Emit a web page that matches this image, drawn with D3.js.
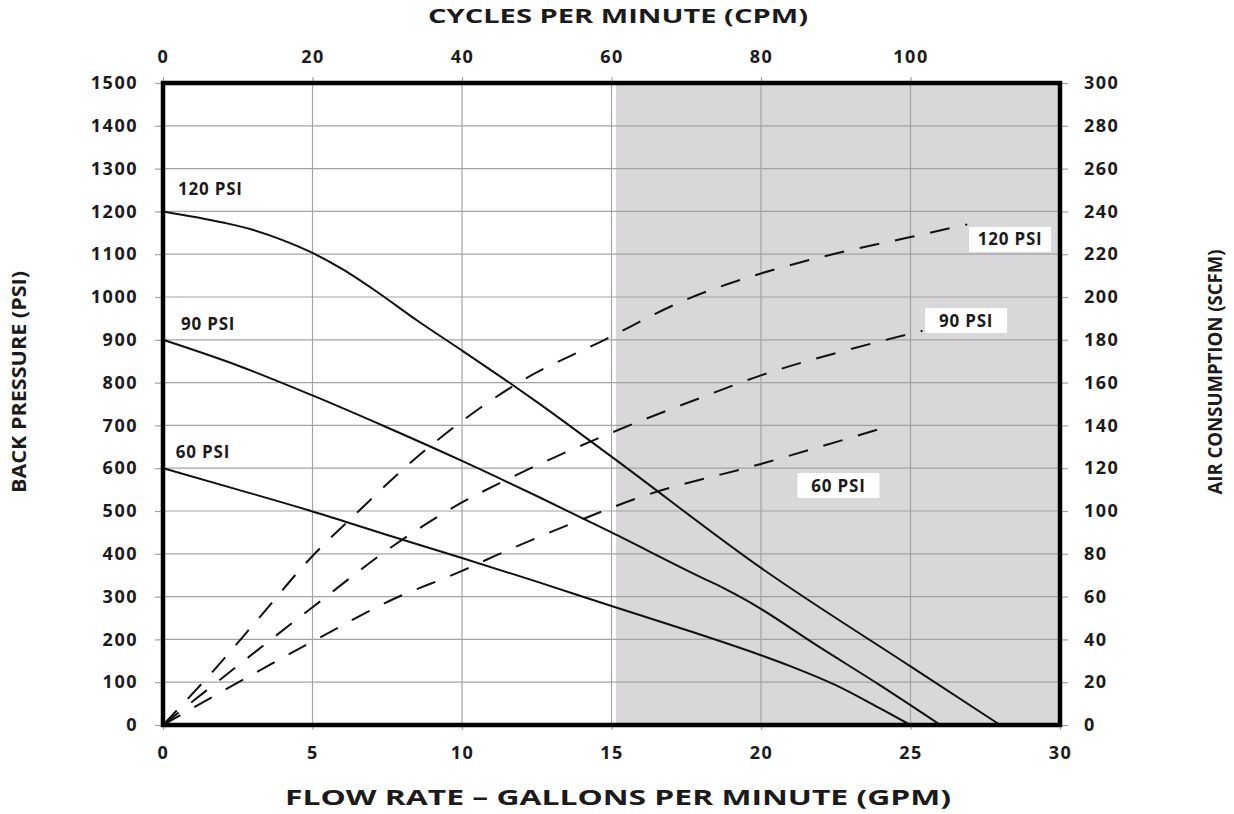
<!DOCTYPE html>
<html>
<head>
<meta charset="utf-8">
<script src="https://cdn.jsdelivr.net/npm/d3@7"></script>
<style>
  body { margin: 0; background: #fff; }
  text { font-family: "Open Sans", sans-serif; font-weight: 700; fill: #1c1a1b; }
</style>
</head>
<body>
<div id="chart"></div>
<script>
// axis ticks
const flowTicks = [0, 5, 10, 15, 20, 25, 30];
const cpmTicks = [0, 20, 40, 60, 80, 100];
const pressureTicks = d3.range(0, 1501, 100);
const scfmTicks = d3.range(0, 301, 20);

// back pressure (psi) vs flow (gpm), solid curves
const pressureSeries = [
  { name: '120 PSI', gpm: [0, 2, 3, 4, 5, 6, 7.2, 8.5, 10, 11.6, 12.5, 15, 20, 25, 28],
    psi: [1200, 1174, 1157, 1133, 1103, 1065, 1010, 945, 875, 799, 755, 627, 367, 137, 0] },
  { name: '90 PSI', gpm: [0, 2.5, 5, 7.5, 10, 12.5, 15, 18, 18.75, 19.5, 22, 24, 26],
    psi: [900, 840, 770, 695, 617, 535, 450, 345, 320, 292, 180, 92, 0] },
  { name: '60 PSI', gpm: [0, 2.5, 5, 7.5, 10, 12.5, 15, 17.5, 20, 21, 22.5, 24, 25],
    psi: [600, 550, 499, 444, 390, 335, 278, 222, 163, 137, 93, 38, 0] },
];

// air consumption (scfm) vs flow (gpm), dashed curves
const airSeries = [
  { name: '120 PSI', gpm: [0, 1.6, 3.15, 5, 6.4, 8.07, 10, 11.9, 14.77, 17.53, 20, 22.4, 25, 26.9],
    scfm: [0, 24, 49, 79, 98, 120, 142, 160, 180, 199, 211, 220, 228, 234] },
  { name: '90 PSI', gpm: [0, 5, 7.73, 10, 11.4, 14.9, 18, 20, 22.66, 25.4],
    scfm: [0, 55, 84, 104, 114, 136, 153, 163.4, 174.4, 184.2] },
  { name: '60 PSI', gpm: [0, 5, 7.73, 10, 11.1, 14, 15.86, 20, 23.9],
    scfm: [0, 39, 59, 72, 79, 96, 106, 122, 138] },
];

// label anchors (gpm, psi) for the solid curves, (gpm, scfm) for the dashed ones
const pressureLabels = [
  { text: '120 PSI', gpm: 0.5, psi: 1238 },
  { text: '90 PSI', gpm: 0.6, psi: 924 },
  { text: '60 PSI', gpm: 0.43, psi: 625 },
];
const airLabels = [
  { text: '120 PSI', gpm: 28.33, scfm: 226.9 },
  { text: '90 PSI', gpm: 26.86, scfm: 189 },
  { text: '60 PSI', gpm: 22.59, scfm: 111.9 },
];
const shadeFrom = 15.15;

const W = 1234, H = 814;
const margin = { top: 83, right: 174, bottom: 89, left: 163 };
const width = W - margin.left - margin.right;
const height = H - margin.top - margin.bottom;

const svg = d3.select('#chart').append('svg')
  .attr('width', W)
  .attr('height', H);
const g = svg.append('g')
  .attr('transform', `translate(${margin.left}, ${margin.top})`);

const x = d3.scaleLinear().domain([0, 30]).range([0, width]);
const xTop = d3.scaleLinear().domain([0, 120]).range([0, width]);
const y = d3.scaleLinear().domain([0, 1500]).range([height, 0]);
const yRight = d3.scaleLinear().domain([0, 300]).range([height, 0]);

// shaded region
g.append('rect')
  .attr('x', x(shadeFrom))
  .attr('y', 0)
  .attr('width', x(30) - x(shadeFrom))
  .attr('height', height)
  .attr('fill', '#d9d7d9');

// grid
g.append('g').selectAll('line')
  .data(pressureTicks.slice(1, -1))
  .join('line')
  .attr('x1', 0).attr('x2', width)
  .attr('y1', d => y(d)).attr('y2', d => y(d))
  .attr('stroke', '#a3a3a3').attr('stroke-width', 1.2);
g.append('g').selectAll('line')
  .data(flowTicks.slice(1, -1))
  .join('line')
  .attr('x1', d => x(d)).attr('x2', d => x(d))
  .attr('y1', 0).attr('y2', height)
  .attr('stroke', '#a3a3a3').attr('stroke-width', 1.2);

function styleAxis(sel) {
  sel.select('.domain').remove();
  sel.selectAll('.tick line').attr('stroke', '#a3a3a3').attr('stroke-width', 1.2);
  sel.selectAll('.tick text')
    .attr('font-size', 18)
    .attr('letter-spacing', 1.5)
    .attr('fill', '#1c1a1b')
    .style('font-family', '"Open Sans", sans-serif')
    .style('font-weight', 700);
}

const fmt = d3.format('d');
g.append('g')
  .call(d3.axisLeft(y).tickValues(pressureTicks).tickFormat(fmt).tickSize(8).tickPadding(17))
  .call(styleAxis);
g.append('g')
  .attr('transform', `translate(${width}, 0)`)
  .call(d3.axisRight(yRight).tickValues(scfmTicks).tickFormat(fmt).tickSize(8).tickPadding(16))
  .call(styleAxis);
g.append('g')
  .attr('transform', `translate(0, ${height})`)
  .call(d3.axisBottom(x).tickValues(flowTicks).tickFormat(fmt).tickSize(5).tickPadding(16))
  .call(styleAxis);
g.append('g')
  .call(d3.axisTop(xTop).tickValues(cpmTicks).tickFormat(fmt).tickSize(6).tickPadding(14))
  .call(styleAxis);

// curves
const pLine = d3.line()
  .x(d => x(d[0]))
  .y(d => y(d[1]))
  .curve(d3.curveMonotoneX);
const aLine = d3.line()
  .x(d => x(d[0]))
  .y(d => yRight(d[1]))
  .curve(d3.curveMonotoneX);

g.append('g').selectAll('path')
  .data(pressureSeries)
  .join('path')
  .attr('d', s => pLine(d3.zip(s.gpm, s.psi)))
  .attr('fill', 'none')
  .attr('stroke', '#111')
  .attr('stroke-width', 2);

g.append('g').selectAll('path')
  .data(airSeries)
  .join('path')
  .attr('d', s => aLine(d3.zip(s.gpm, s.scfm)))
  .attr('fill', 'none')
  .attr('stroke', '#111')
  .attr('stroke-width', 2)
  .attr('stroke-dasharray', '20,16');

// frame
g.append('rect')
  .attr('width', width)
  .attr('height', height)
  .attr('fill', 'none')
  .attr('stroke', '#000')
  .attr('stroke-width', 4.5);

// curve labels
g.append('g').selectAll('text')
  .data(pressureLabels)
  .join('text')
  .attr('x', d => x(d.gpm))
  .attr('y', d => y(d.psi))
  .attr('font-size', 17)
  .attr('letter-spacing', 0.8)
  .text(d => d.text);

const airLab = g.append('g').selectAll('g')
  .data(airLabels)
  .join('g')
  .attr('transform', d => `translate(${x(d.gpm)}, ${yRight(d.scfm)})`);
airLab.append('rect')
  .attr('x', -41).attr('y', -12.5)
  .attr('width', 82).attr('height', 25)
  .attr('fill', '#fff');
airLab.append('text')
  .attr('text-anchor', 'middle')
  .attr('y', 6)
  .attr('font-size', 17)
  .attr('letter-spacing', 0.8)
  .text(d => d.text);

// axis titles
svg.append('text')
  .attr('x', 618).attr('y', 23)
  .attr('text-anchor', 'middle')
  .attr('font-size', 19)
  .attr('textLength', 380)
  .attr('lengthAdjust', 'spacingAndGlyphs')
  .text('CYCLES PER MINUTE (CPM)');
svg.append('text')
  .attr('x', 618).attr('y', 805)
  .attr('text-anchor', 'middle')
  .attr('font-size', 22)
  .attr('textLength', 666)
  .attr('lengthAdjust', 'spacingAndGlyphs')
  .text('FLOW RATE – GALLONS PER MINUTE (GPM)');
svg.append('text')
  .attr('transform', 'translate(26, 382) rotate(-90)')
  .attr('text-anchor', 'middle')
  .attr('font-size', 20)
  .attr('textLength', 222)
  .attr('lengthAdjust', 'spacingAndGlyphs')
  .text('BACK PRESSURE  (PSI)');
svg.append('text')
  .attr('transform', 'translate(1222, 372) rotate(-90)')
  .attr('text-anchor', 'middle')
  .attr('font-size', 20)
  .attr('textLength', 245)
  .attr('lengthAdjust', 'spacingAndGlyphs')
  .text('AIR CONSUMPTION  (SCFM)');
</script>
</body>
</html>
